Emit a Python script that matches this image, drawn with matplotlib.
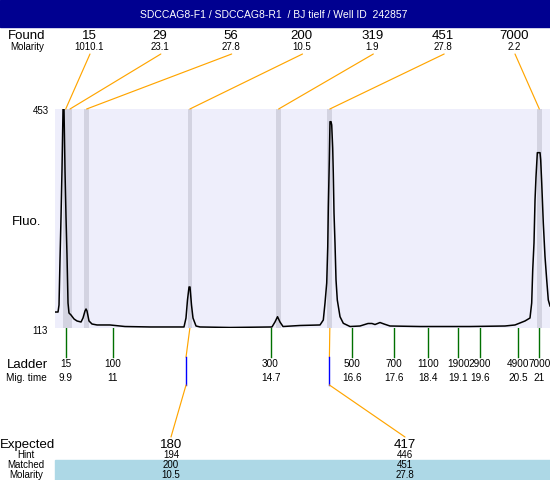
import numpy as np
import matplotlib
matplotlib.use('Agg')
import matplotlib.pyplot as plt
from matplotlib.patches import Rectangle, ConnectionPatch
from matplotlib.transforms import blended_transform_factory

plt.rcParams['font.family'] = ['Liberation Sans', 'DejaVu Sans']

# ---------------- data ----------------
title = "SDCCAG8-F1 / SDCCAG8-R1  / BJ tielf / Well ID  242857"

trace_time = [9.649, 9.720, 9.743, 9.766, 9.790, 9.813, 9.837, 9.860, 9.884, 9.907,
              9.930, 9.954, 9.977, 10.024, 10.095, 10.165, 10.259, 10.305, 10.352, 10.376,
              10.399, 10.446, 10.516, 10.634, 10.938, 11.290, 11.876, 12.672, 12.719, 12.754,
              12.790, 12.813, 12.848, 12.883, 12.954, 13.047, 13.750, 14.734, 14.804, 14.864,
              14.922, 14.993, 15.391, 15.860, 15.937, 15.977, 16.017, 16.041, 16.055, 16.078,
              16.094, 16.118, 16.134, 16.157, 16.171, 16.188, 16.211, 16.235, 16.265, 16.329,
              16.406, 16.563, 16.797, 16.985, 17.078, 17.149, 17.266, 17.360, 17.500, 18.203,
              19.375, 20.195, 20.429, 20.664, 20.781, 20.821, 20.845, 20.875, 20.899, 20.922,
              20.953, 21.016, 21.032, 21.056, 21.093, 21.133, 21.173, 21.210, 21.250]
trace_fluo = [137.8, 137.8, 148.7, 218.6, 285.3, 358.3, 453.0, 453.0, 355.2, 285.3,
              226.3, 151.8, 136.3, 133.2, 127.0, 123.9, 122.3, 128.5, 139.4, 142.5,
              139.4, 123.9, 119.2, 117.7, 117.7, 115.3, 114.6, 114.6, 128.5, 156.5,
              176.7, 176.7, 148.7, 128.5, 116.1, 114.6, 113.8, 114.6, 122.3, 130.5,
              122.3, 115.3, 116.9, 117.7, 125.4, 151.8, 182.9, 238.8, 300.9, 373.8,
              433.3, 433.3, 428.2, 392.4, 353.6, 291.5, 245.0, 187.5, 156.5, 130.5,
              120.3, 115.3, 116.1, 120.0, 120.0, 118.4, 121.5, 119.2, 116.1, 115.3,
              115.3, 116.1, 117.7, 123.9, 128.5, 151.8, 203.0, 245.0, 311.7, 347.9,
              385.2, 385.2, 373.8, 338.1, 276.0, 223.7, 187.5, 156.5, 147.2]

fluo_ticks = [113, 453]

found_sizes = ['15', '29', '56', '200', '319', '451', '7000']
found_molarity = ['1010.1', '23.1', '27.8', '10.5', '1.9', '27.8', '2.2']
found_times = [9.90, 10.00, 10.39, 12.81, 14.89, 16.09, 21.00]

ladder_sizes = ['15', '100', '300', '500', '700', '1100', '1900', '2900', '4900', '7000']
ladder_times = [9.9, 11, 14.7, 16.6, 17.6, 18.4, 19.1, 19.6, 20.5, 21]

expected_sizes = ['180', '417']
hint_sizes = ['194', '446']
matched_sizes = ['200', '451']
matched_molarity = ['10.5', '27.8']
matched_times = [12.81, 16.09]
expected_times = [12.72, 16.08]

# ---------------- layout ----------------
W, H = 550, 480
fig = plt.figure(figsize=(W / 100, H / 100), dpi=100)
ov = fig.add_axes([0, 0, 1, 1])
ov.set_xlim(0, W)
ov.set_ylim(H, 0)
ov.axis('off')

PL, PR, PT, PB = 55, 550, 109, 328
ax = fig.add_axes([PL / W, 1 - PB / H, (PR - PL) / W, (PB - PT) / H])
ax.set_xlim(9.649, 21.25)
ax.set_ylim(fluo_ticks[0], fluo_ticks[1])
ax.set_facecolor('#EEEEFB')
for s in ax.spines.values():
    s.set_visible(False)
ax.set_xticks([])
ax.set_yticks([])

ORANGE = '#FFA500'
BIG, SMALL = 9.5, 7.2

# title band
ov.add_patch(Rectangle((0, 0), W, 27, color='#000090', zorder=0))
ov.text(274, 18.5, title, color='white', fontsize=7.5, ha='center', va='baseline')

# peak bands and trace
for t in found_times:
    ax.axvspan(t - 0.055, t + 0.055, color='#D3D3E1', lw=0, zorder=1)
ax.plot(trace_time, trace_fluo, color='black', lw=1.1, zorder=2)

# left labels
ov.text(8, 38.7, 'Found', fontsize=BIG, ha='left', va='baseline')
ov.text(10, 50.5, 'Molarity', fontsize=7, ha='left', va='baseline')
ov.text(12, 224.7, 'Fluo.', fontsize=BIG, ha='left', va='baseline')
ov.text(49, 113.5, str(fluo_ticks[1]), fontsize=7, ha='right', va='baseline')
ov.text(48, 334.5, str(fluo_ticks[0]), fontsize=7, ha='right', va='baseline')
ov.text(7, 367.7, 'Ladder', fontsize=BIG, ha='left', va='baseline')
ov.text(6, 380.6, 'Mig. time', fontsize=SMALL, ha='left', va='baseline')

# found labels and connectors
label_x = np.linspace(89, 514, len(found_sizes))
for lx, size, mol, t in zip(label_x, found_sizes, found_molarity, found_times):
    ov.text(lx, 38.7, size, fontsize=BIG, ha='center', va='baseline')
    ov.text(lx, 50.5, mol, fontsize=7, ha='center', va='baseline')
    con = ConnectionPatch(xyA=(lx + 1, 54), coordsA=ov.transData,
                          xyB=(t, fluo_ticks[1]), coordsB=ax.transData,
                          color=ORANGE, lw=0.85)
    fig.add_artist(con)

# ladder
blend = blended_transform_factory(ax.transData, ov.transData)
for size, t in zip(ladder_sizes, ladder_times):
    ov.plot([t, t], [PB, 357], transform=blend, color='#007000', lw=1.0, clip_on=False)
    ov.text(t, 366.6, size, transform=blend, fontsize=SMALL, ha='center', va='baseline')
    ov.text(t, 381, '{:g}'.format(t), transform=blend, fontsize=SMALL, ha='center', va='baseline')

# expected / matched
ov.add_patch(Rectangle((55, 460), W - 55, 20, color='#ADD8E6', zorder=0))
ov.text(0, 447.7, 'Expected', fontsize=BIG, ha='left', va='baseline')
ov.text(26, 457.5, 'Hint', fontsize=7, ha='center', va='baseline')
ov.text(26, 468.5, 'Matched', fontsize=7, ha='center', va='baseline')
ov.text(26, 477.5, 'Molarity', fontsize=7, ha='center', va='baseline')

exp_x = [171, 405]
for ex, es, hs, ms, mm, mt, et in zip(exp_x, expected_sizes, hint_sizes, matched_sizes,
                                       matched_molarity, matched_times, expected_times):
    ov.plot([mt, et], [PB, 357], transform=blend, color=ORANGE, lw=0.85, clip_on=False)
    ov.plot([et, et], [357, 385], transform=blend, color='#0000FF', lw=1.0, clip_on=False)
    con = ConnectionPatch(xyA=(et, 385), coordsA=blend,
                          xyB=(ex, 437), coordsB=ov.transData,
                          color=ORANGE, lw=0.85)
    fig.add_artist(con)
    ov.text(ex, 447.7, es, fontsize=BIG, ha='center', va='baseline')
    ov.text(ex, 457.5, hs, fontsize=7, ha='center', va='baseline')
    ov.text(ex, 468.5, ms, fontsize=7, ha='center', va='baseline')
    ov.text(ex, 477.5, mm, fontsize=7, ha='center', va='baseline')

fig.savefig('out.png', dpi=100)
